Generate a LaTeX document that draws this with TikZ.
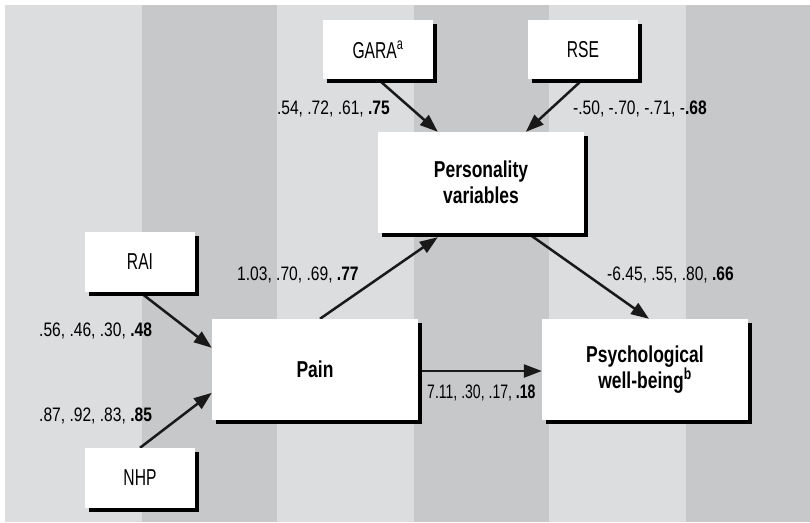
\documentclass[tikz,border=0pt]{standalone}
\usepackage{fontspec}
\usepackage{graphicx}
\setmainfont{Liberation Sans}
\newfontfamily\lblfont{Liberation Sans}[FakeStretch=0.80]
\newfontfamily\boxfont{Liberation Sans}[FakeStretch=0.68]
\newfontfamily\boxbfont{Liberation Sans}[FakeStretch=0.76]
\usetikzlibrary{arrows.meta,shadows,calc}
\definecolor{lightstripe}{HTML}{DCDDDF}
\definecolor{darkstripe}{HTML}{C7C8CA}
\pgfdeclarelayer{stripes}
\pgfdeclarelayer{edges}
\pgfsetlayers{stripes,edges,main}
\tikzset{
  varbox/.style={fill=white, draw=none, inner sep=0pt, align=center,
    general shadow={fill=black, shadow xshift=4pt, shadow yshift=-4pt}},
  smallbox/.style={varbox, minimum width=110pt, minimum height=59pt,
    font=\boxfont\fontsize{23}{27}\selectfont},
  bigbox/.style={varbox, minimum width=206pt, minimum height=101pt,
    font=\boxbfont\bfseries\fontsize{23}{26.5}\selectfont},
  coef/.style={inner sep=0pt, font=\lblfont\fontsize{19.5}{22}\selectfont},
  path/.style={line width=2.5pt, draw=black!90, -{Triangle[length=18pt,width=13pt]}}
}
\begin{document}
\begin{tikzpicture}[x=1pt,y=-1pt]
\useasboundingbox (0,0) rectangle (810,522);
\begin{pgfonlayer}{stripes}
  \fill[white] (0,0) rectangle (810,522);
  \fill[lightstripe] (5,5) rectangle (142,522);
  \fill[darkstripe] (142,5) rectangle (277,522);
  \fill[lightstripe] (277,5) rectangle (414,522);
  \fill[darkstripe] (414,5) rectangle (549,522);
  \fill[lightstripe] (549,5) rectangle (686,522);
  \fill[darkstripe] (686,5) rectangle (810,522);
\end{pgfonlayer}

\node[smallbox] (gara) at (378,49.5) {GARA\textsuperscript{a}};
\node[smallbox] (rse) at (583,49.5) {RSE};
\node[bigbox] (pers) at (481,182.5) {Personality\\variables};
\node[smallbox, minimum height=60pt] (rai) at (140,262) {RAI};
\node[bigbox] (pain) at (315,369.5) {Pain};
\node[smallbox, minimum height=60pt] (nhp) at (140,478) {NHP};
\node[bigbox] (psych) at (645,369.5) {Psychological\\well-being\textsuperscript{b}};

\begin{pgfonlayer}{edges}
  \draw[path] (gara.south) -- ($(pers.north west)+(60,0)$);
  \draw[path] (rse.south) -- ($(pers.north west)+(148,0)$);
  \draw[path] ($(pain.north)+(5,0)$) -- ($(pers.south west)+(60,4)$);
  \draw[path] ($(pers.south west)+(150,0)$) -- ($(psych.north)+(4,0)$);
  \draw[path] ($(pain.east)+(0,1.5)$) -- ($(psych.west)+(0,1.5)$);
  \draw[path] (rai.south) -- ($(pain.north west)+(0,29)$);
  \draw[path] (nhp.north) -- ($(pain.north west)+(0,74)$);
\end{pgfonlayer}

\node[coef, anchor=base east] (l1) at (390,114) {.54, .72, .61, \textbf{.75}};
\node[coef, anchor=base west] (l2) at (573,114) {-.50, -.70, -.71, -\textbf{.68}};
\node[coef, anchor=base west] (l3) at (237,280.5) {1.03, .70, .69, \textbf{.77}};
\node[coef, anchor=base west] (l4) at (39,336) {.56, .46, .30, \textbf{.48}};
\node[coef, anchor=base west] (l5) at (39,421.5) {.87, .92, .83, \textbf{.85}};
\node[coef, anchor=base west] (l6) at (607,280) {-6.45, .55, .80, \textbf{.66}};
\node[coef, anchor=base west] (l7) at (427,398) {\scalebox{0.9}[1]{7.11, .30, .17, \textbf{.18}}};
\end{tikzpicture}
\end{document}
